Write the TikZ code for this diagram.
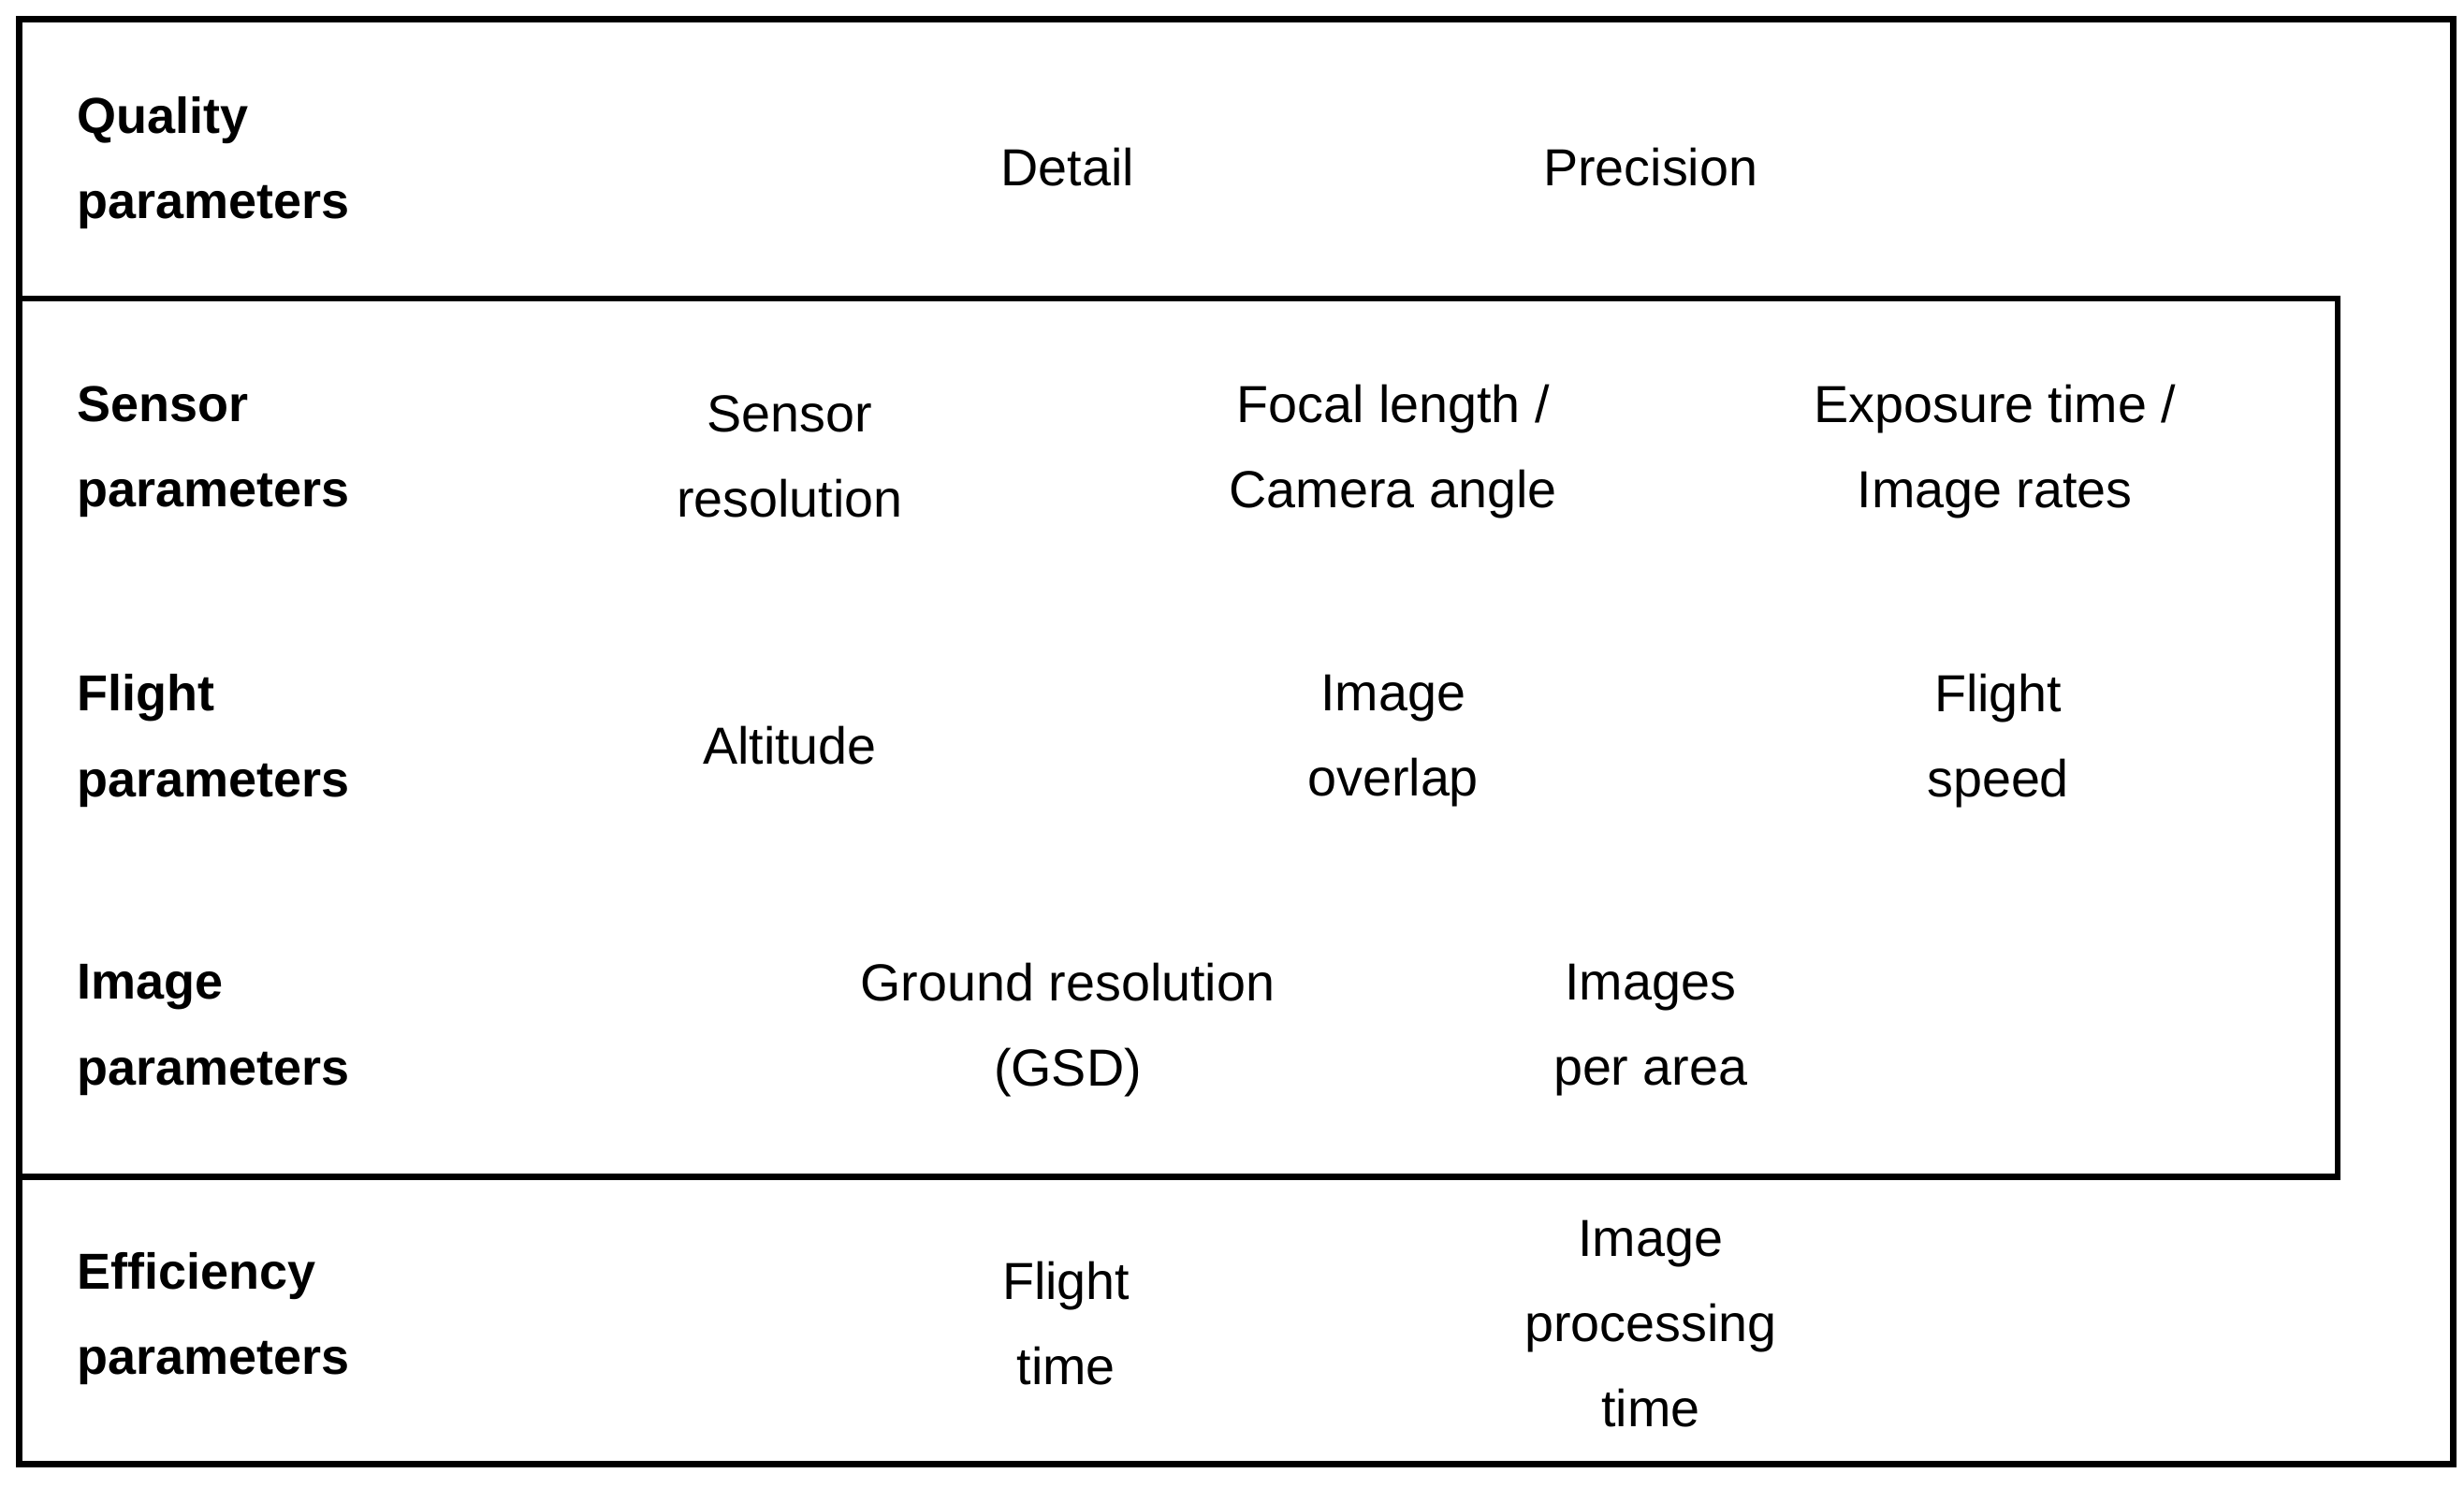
\documentclass[tikz,border=0pt]{standalone}
\usepackage{fontspec}
\setmainfont{Liberation Sans}
\begin{document}
\begin{tikzpicture}[x=0.5pt,y=-0.5pt,
  lbl/.style={anchor=west,align=left,font=\fontsize{16}{27}\selectfont\bfseries},
  itm/.style={align=center,font=\fontsize{16.5}{27}\selectfont},
  frame/.style={line width=2pt}]
\useasboundingbox (0,0) rectangle (1560,942);
\draw[frame] (12,12) rectangle (1553,927);
\draw[frame] (12,189) rectangle (1480,745);
\node[lbl] (q) at (42,103) {Quality\\parameters};
\node[lbl] (s) at (42,286) {Sensor\\parameters};
\node[lbl] (f) at (42,469) {Flight\\parameters};
\node[lbl] (i) at (42,652) {Image\\parameters};
\node[lbl] (e) at (42,835) {Efficiency\\parameters};
\node[itm] (det) at (676,106) {Detail};
\node[itm] (pre) at (1045,106) {Precision};
\node[itm] (sr) at (500,289) {Sensor\\resolution};
\node[itm] (fl) at (882,286) {Focal length /\\Camera angle};
\node[itm] (ex) at (1263,286) {Exposure time /\\Image rates};
\node[itm] (alt) at (500,472) {Altitude};
\node[itm] (ov) at (882,469) {Image\\overlap};
\node[itm] (fs) at (1265,469) {Flight\\speed};
\node[itm] (gsd) at (676,652) {Ground resolution\\(GSD)};
\node[itm] (ipa) at (1045,652) {Images\\per area};
\node[itm] (ft) at (675,838) {Flight\\time};
\node[itm] (ipt) at (1045,838) {Image\\processing\\time};
\end{tikzpicture}
\end{document}
